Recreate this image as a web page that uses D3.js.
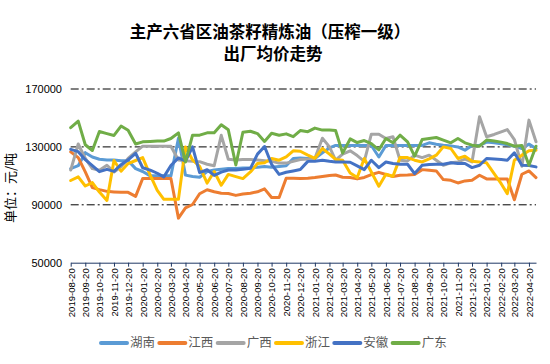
<!DOCTYPE html>
<html>
<head>
<meta charset="utf-8">
<script src="https://cdn.jsdelivr.net/npm/d3@7"></script>
<style>
  body { margin: 0; background: #fff; }
  svg { display: block; }
</style>
</head>
<body>
<div id="chart"></div>
<script>
const dates = [
  "2019-08-20","2019-09-05","2019-09-20","2019-10-05","2019-10-20","2019-11-05","2019-11-20","2019-12-05","2019-12-20",
  "2020-01-05","2020-01-20","2020-02-05","2020-02-20","2020-03-05","2020-03-20","2020-04-05","2020-04-20","2020-05-05","2020-05-20",
  "2020-06-05","2020-06-20","2020-07-05","2020-07-20","2020-08-05","2020-08-20","2020-09-05","2020-09-20","2020-10-05","2020-10-20",
  "2020-11-05","2020-11-20","2020-12-05","2020-12-20","2021-01-05","2021-01-20","2021-02-05","2021-02-20","2021-03-05","2021-03-20",
  "2021-04-05","2021-04-20","2021-05-05","2021-05-20","2021-06-05","2021-06-20","2021-07-05","2021-07-20","2021-08-05","2021-08-20",
  "2021-09-05","2021-09-20","2021-10-05","2021-10-20","2021-11-05","2021-11-20","2021-12-05","2021-12-20","2022-01-05","2022-01-20",
  "2022-02-05","2022-02-20","2022-03-05","2022-03-20","2022-04-05","2022-04-20","2022-05-05"
];

const tickLabels = [
  "2019-08-20","2019-09-20","2019-10-20","2019-11-20","2019-12-20","2020-01-20","2020-02-20","2020-03-20","2020-04-20",
  "2020-05-20","2020-06-20","2020-07-20","2020-08-20","2020-09-20","2020-10-20","2020-11-20","2020-12-20","2021-01-20",
  "2021-02-20","2021-03-20","2021-04-20","2021-05-20","2021-06-20","2021-07-20","2021-08-20","2021-09-20","2021-10-20",
  "2021-11-20","2021-12-20","2022-01-20","2022-02-20","2022-03-20","2022-04-20"
];

const yTicks = [50000, 90000, 130000, 170000];

const provinces = ["湖南", "江西", "广西", "浙江", "安徽", "广东"];
const colors = ["#5B9BD5", "#ED7D31", "#A5A5A5", "#FFC000", "#4472C4", "#70AD47"];

const hunan = [115000,117000,126000,123000,121500,121000,121000,120500,120500,115000,113000,110000,110000,110000,110000,136000,
  110500,109500,109000,113000,114000,114500,115000,115000,115500,115500,116000,116500,116000,116500,117000,122000,122400,122000,
  122000,125900,129300,131000,131000,131000,131000,131000,131000,123000,131000,131000,131000,131000,131000,131000,132800,131900,
  131200,130700,130000,127700,131000,131000,133300,132800,132100,131400,130500,128900,131900,128900];
const jiangxi = [126600,122600,112700,101900,100500,99300,98900,98600,98600,95800,108200,108200,108200,108200,108200,80800,
  87900,90200,97600,100400,99000,98000,97800,96500,97500,98000,99000,101000,95000,95000,108300,108300,108100,108300,108800,109600,
  110300,110600,109000,108800,107900,108900,110900,112400,110900,109500,110400,110600,110900,114300,113900,113400,107400,106900,
  105100,106500,106900,110400,107900,107900,107900,107900,93500,111100,113400,108800];
const guangxi = [114000,132000,122000,115000,113900,117300,112700,116200,122000,126600,130500,130500,130500,130500,130500,121000,
  120500,120000,119800,118000,117000,138000,121500,121000,121300,121300,120900,120400,120000,118800,118800,120000,121300,121700,
  122200,136000,130000,120800,125000,127300,124000,120000,138800,138800,135800,137000,120800,120300,124300,122600,124300,120800,
  117300,119000,119600,121500,119600,150800,137000,138600,140400,142000,135100,116600,148500,133500];
const zhejiang = [106800,109300,103000,105300,98800,93000,120600,113200,118500,120600,122600,110500,100000,93800,93800,93800,
  130000,121000,116500,105000,113000,103500,111000,109500,108100,112700,118500,119000,122000,120800,123100,127300,127000,124300,
  122000,128900,125000,121300,120800,112000,108800,122000,112700,102800,111100,109700,122600,122600,120800,119600,121700,124300,
  130000,128900,122000,123600,120100,119600,119000,111600,104600,97700,120800,124300,127300,127700];
const anhui = [128300,126700,121200,117100,112900,114500,113100,117700,121100,125600,115600,114000,111800,109300,117100,122400,
  120200,130000,112200,114200,110300,112600,114000,114000,114600,115200,125000,130300,118000,111000,112500,113400,114400,120000,
  120100,120800,120100,119600,119600,119400,116900,114300,120800,115700,119600,118500,118000,118000,111600,117300,117800,118000,
  118000,119000,118500,118500,115700,117300,122000,121700,121300,120800,125900,117300,117100,116200];
const guangdong = [143300,147800,131500,127500,140600,139200,137900,144400,141500,132000,133500,133800,134000,134000,135800,139700,
  119600,138100,138100,139700,139700,145300,141800,117500,140100,140800,139200,133800,139400,138000,139000,137100,141300,140500,
  143000,141600,141700,141300,125700,135500,133000,134400,132300,128000,135800,132800,138100,133500,123600,135100,135800,136500,
  134700,132800,135800,132800,131200,130500,134700,134000,133300,132300,130500,131000,117300,130500];

const seriesValues = [hunan, jiangxi, guangxi, zhejiang, anhui, guangdong];

const width = 550, height = 364;
const parse = d3.timeParse("%Y-%m-%d");

const svg = d3.select("#chart").append("svg")
  .attr("width", width)
  .attr("height", height);

const x = d3.scaleTime()
  .domain([parse(dates[0]), parse(dates[dates.length - 1])])
  .range([70.7, 536]);
const y = d3.scaleLinear()
  .domain([50000, 170000])
  .range([262.7, 89]);

// title
const title = svg.append("text")
  .attr("text-anchor", "middle")
  .style("font-family", "'Noto Sans CJK SC', sans-serif")
  .style("font-weight", "bold")
  .style("font-size", "16.5px")
  .attr("fill", "#000");
title.append("tspan").attr("x", 270).attr("y", 38).text("主产六省区油茶籽精炼油（压榨一级）");
title.append("tspan").attr("x", 273).attr("y", 59.5).text("出厂均价走势");

// gridlines
svg.append("g")
  .selectAll("line")
  .data(yTicks.filter(d => d > 50000))
  .enter()
  .append("line")
  .attr("x1", 70.7)
  .attr("x2", 536)
  .attr("y1", d => y(d))
  .attr("y2", d => y(d))
  .attr("stroke", "#000")
  .attr("stroke-width", 1)
  .attr("stroke-dasharray", "8,3,2,3");

// y labels
svg.append("g")
  .selectAll("text")
  .data(yTicks)
  .enter()
  .append("text")
  .attr("x", 62)
  .attr("y", d => y(d))
  .attr("dy", "0.35em")
  .attr("text-anchor", "end")
  .style("font-family", "'Liberation Sans', Arial, sans-serif")
  .style("font-size", "11px")
  .attr("fill", "#000")
  .text(d => d);

svg.append("text")
  .attr("transform", "translate(15,188) rotate(-90)")
  .attr("text-anchor", "middle")
  .style("font-family", "'Noto Sans CJK SC', sans-serif")
  .style("font-size", "13px")
  .attr("fill", "#000")
  .text("单位：元/吨");

// x axis
const xAxis = d3.axisBottom(x)
  .tickValues(tickLabels.map(parse))
  .tickFormat(d3.timeFormat("%Y-%m-%d"))
  .tickSizeInner(4)
  .tickSizeOuter(0);

const gx = svg.append("g")
  .attr("transform", "translate(0,262.7)")
  .call(xAxis);
gx.select(".domain").attr("stroke", "#1F3864");
gx.selectAll(".tick line").attr("stroke", "#1F3864");
gx.selectAll("text")
  .attr("transform", "rotate(-90)")
  .attr("text-anchor", "end")
  .attr("x", -5.5)
  .attr("y", 0)
  .attr("dy", "0.35em")
  .style("font-family", "'Liberation Sans', Arial, sans-serif")
  .style("font-size", "9.6px")
  .attr("fill", "#000");

// lines
const line = d3.line()
  .x((d, i) => x(parse(dates[i])))
  .y(d => y(d));

svg.append("g")
  .selectAll("path")
  .data(seriesValues)
  .enter()
  .append("path")
  .attr("d", d => line(d))
  .attr("fill", "none")
  .attr("stroke", (d, i) => colors[i])
  .attr("stroke-width", 3)
  .attr("stroke-linejoin", "round")
  .attr("stroke-linecap", "round");

// legend
const legend = svg.append("g")
  .selectAll("g")
  .data(provinces)
  .enter()
  .append("g")
  .attr("transform", (d, i) => "translate(" + (100 + i * 58.33) + ",343)");

legend.append("line")
  .attr("x1", 1)
  .attr("x2", 27)
  .attr("stroke", (d, i) => colors[i])
  .attr("stroke-width", 4)
  .attr("stroke-linecap", "round");

legend.append("text")
  .attr("x", 30)
  .attr("dy", "0.35em")
  .style("font-family", "'Noto Sans CJK SC', sans-serif")
  .style("font-size", "12.5px")
  .attr("fill", "#595959")
  .text(d => d);
</script>
</body>
</html>
